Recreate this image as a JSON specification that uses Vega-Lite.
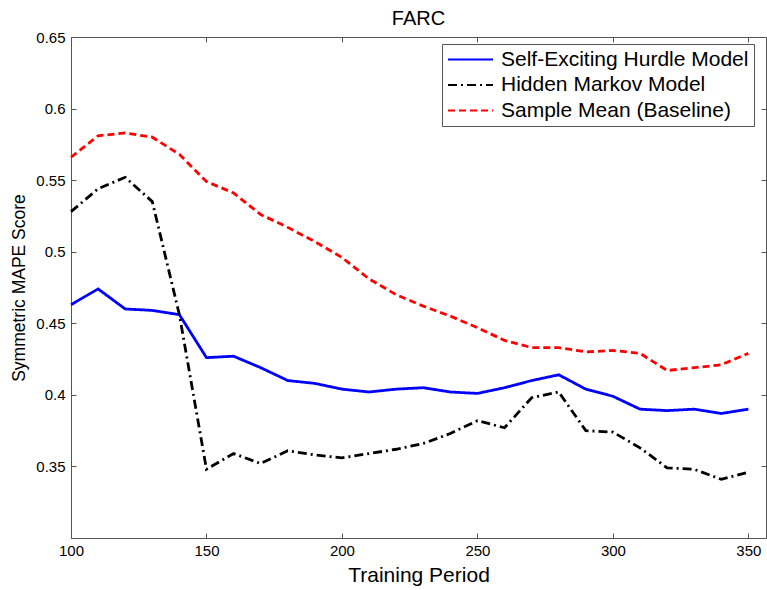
{
  "$schema": "https://vega.github.io/schema/vega-lite/v6.json",
  "width": 695,
  "height": 501,
  "autosize": "none",
  "padding": {"left": 71, "top": 37, "right": 1, "bottom": 52},
  "background": "white",
  "title": {"text": "FARC", "fontSize": 20, "font": "Liberation Sans", "fontWeight": "normal", "color": "black", "offset": 1, "anchor": "middle"},
  "config": {
    "view": {"stroke": "#555", "strokeWidth": 1},
    "axis": {
      "grid": false,
      "domainColor": "#555",
      "tickColor": "#555",
      "tickSize": -5,
      "labelFlush": false,
      "labelOverlap": false,
      "labelFont": "Liberation Sans",
      "labelFontSize": 15,
      "labelColor": "black",
      "titleFont": "Liberation Sans",
      "titleFontWeight": "normal",
      "titleColor": "black"
    }
  },
  "data": {"values": [
    {"period": 100, "model": "Self-Exciting Hurdle Model", "mape": 0.463},
    {"period": 110, "model": "Self-Exciting Hurdle Model", "mape": 0.474},
    {"period": 120, "model": "Self-Exciting Hurdle Model", "mape": 0.460},
    {"period": 130, "model": "Self-Exciting Hurdle Model", "mape": 0.459},
    {"period": 140, "model": "Self-Exciting Hurdle Model", "mape": 0.456},
    {"period": 150, "model": "Self-Exciting Hurdle Model", "mape": 0.426},
    {"period": 160, "model": "Self-Exciting Hurdle Model", "mape": 0.427},
    {"period": 170, "model": "Self-Exciting Hurdle Model", "mape": 0.419},
    {"period": 180, "model": "Self-Exciting Hurdle Model", "mape": 0.410},
    {"period": 190, "model": "Self-Exciting Hurdle Model", "mape": 0.408},
    {"period": 200, "model": "Self-Exciting Hurdle Model", "mape": 0.404},
    {"period": 210, "model": "Self-Exciting Hurdle Model", "mape": 0.402},
    {"period": 220, "model": "Self-Exciting Hurdle Model", "mape": 0.404},
    {"period": 230, "model": "Self-Exciting Hurdle Model", "mape": 0.405},
    {"period": 240, "model": "Self-Exciting Hurdle Model", "mape": 0.402},
    {"period": 250, "model": "Self-Exciting Hurdle Model", "mape": 0.401},
    {"period": 260, "model": "Self-Exciting Hurdle Model", "mape": 0.405},
    {"period": 270, "model": "Self-Exciting Hurdle Model", "mape": 0.410},
    {"period": 280, "model": "Self-Exciting Hurdle Model", "mape": 0.414},
    {"period": 290, "model": "Self-Exciting Hurdle Model", "mape": 0.404},
    {"period": 300, "model": "Self-Exciting Hurdle Model", "mape": 0.399},
    {"period": 310, "model": "Self-Exciting Hurdle Model", "mape": 0.390},
    {"period": 320, "model": "Self-Exciting Hurdle Model", "mape": 0.389},
    {"period": 330, "model": "Self-Exciting Hurdle Model", "mape": 0.390},
    {"period": 340, "model": "Self-Exciting Hurdle Model", "mape": 0.387},
    {"period": 350, "model": "Self-Exciting Hurdle Model", "mape": 0.390},
    {"period": 100, "model": "Hidden Markov Model", "mape": 0.528},
    {"period": 110, "model": "Hidden Markov Model", "mape": 0.544},
    {"period": 120, "model": "Hidden Markov Model", "mape": 0.552},
    {"period": 130, "model": "Hidden Markov Model", "mape": 0.535},
    {"period": 140, "model": "Hidden Markov Model", "mape": 0.456},
    {"period": 150, "model": "Hidden Markov Model", "mape": 0.348},
    {"period": 160, "model": "Hidden Markov Model", "mape": 0.359},
    {"period": 170, "model": "Hidden Markov Model", "mape": 0.352},
    {"period": 180, "model": "Hidden Markov Model", "mape": 0.361},
    {"period": 190, "model": "Hidden Markov Model", "mape": 0.358},
    {"period": 200, "model": "Hidden Markov Model", "mape": 0.356},
    {"period": 210, "model": "Hidden Markov Model", "mape": 0.359},
    {"period": 220, "model": "Hidden Markov Model", "mape": 0.362},
    {"period": 230, "model": "Hidden Markov Model", "mape": 0.366},
    {"period": 240, "model": "Hidden Markov Model", "mape": 0.373},
    {"period": 250, "model": "Hidden Markov Model", "mape": 0.382},
    {"period": 260, "model": "Hidden Markov Model", "mape": 0.377},
    {"period": 270, "model": "Hidden Markov Model", "mape": 0.398},
    {"period": 280, "model": "Hidden Markov Model", "mape": 0.402},
    {"period": 290, "model": "Hidden Markov Model", "mape": 0.375},
    {"period": 300, "model": "Hidden Markov Model", "mape": 0.374},
    {"period": 310, "model": "Hidden Markov Model", "mape": 0.363},
    {"period": 320, "model": "Hidden Markov Model", "mape": 0.349},
    {"period": 330, "model": "Hidden Markov Model", "mape": 0.348},
    {"period": 340, "model": "Hidden Markov Model", "mape": 0.341},
    {"period": 350, "model": "Hidden Markov Model", "mape": 0.346},
    {"period": 100, "model": "Sample Mean (Baseline)", "mape": 0.566},
    {"period": 110, "model": "Sample Mean (Baseline)", "mape": 0.581},
    {"period": 120, "model": "Sample Mean (Baseline)", "mape": 0.583},
    {"period": 130, "model": "Sample Mean (Baseline)", "mape": 0.580},
    {"period": 140, "model": "Sample Mean (Baseline)", "mape": 0.568},
    {"period": 150, "model": "Sample Mean (Baseline)", "mape": 0.549},
    {"period": 160, "model": "Sample Mean (Baseline)", "mape": 0.541},
    {"period": 170, "model": "Sample Mean (Baseline)", "mape": 0.526},
    {"period": 180, "model": "Sample Mean (Baseline)", "mape": 0.517},
    {"period": 190, "model": "Sample Mean (Baseline)", "mape": 0.507},
    {"period": 200, "model": "Sample Mean (Baseline)", "mape": 0.496},
    {"period": 210, "model": "Sample Mean (Baseline)", "mape": 0.481},
    {"period": 220, "model": "Sample Mean (Baseline)", "mape": 0.470},
    {"period": 230, "model": "Sample Mean (Baseline)", "mape": 0.462},
    {"period": 240, "model": "Sample Mean (Baseline)", "mape": 0.455},
    {"period": 250, "model": "Sample Mean (Baseline)", "mape": 0.447},
    {"period": 260, "model": "Sample Mean (Baseline)", "mape": 0.438},
    {"period": 270, "model": "Sample Mean (Baseline)", "mape": 0.433},
    {"period": 280, "model": "Sample Mean (Baseline)", "mape": 0.433},
    {"period": 290, "model": "Sample Mean (Baseline)", "mape": 0.430},
    {"period": 300, "model": "Sample Mean (Baseline)", "mape": 0.431},
    {"period": 310, "model": "Sample Mean (Baseline)", "mape": 0.429},
    {"period": 320, "model": "Sample Mean (Baseline)", "mape": 0.417},
    {"period": 330, "model": "Sample Mean (Baseline)", "mape": 0.419},
    {"period": 340, "model": "Sample Mean (Baseline)", "mape": 0.421},
    {"period": 350, "model": "Sample Mean (Baseline)", "mape": 0.429}
  ]},
  "layer": [
    {
      "mark": {"type": "line", "opacity": 0},
      "encoding": {
        "x": {"field": "period", "type": "quantitative", "scale": {"domain": [100, 356.5], "nice": false, "zero": false},
          "axis": {"orient": "top", "labels": false, "title": null, "values": [150, 200, 250, 300, 350], "domain": false}},
        "y": {"field": "mape", "type": "quantitative", "scale": {"domain": [0.3, 0.65], "nice": false, "zero": false},
          "axis": {"orient": "right", "labels": false, "title": null, "values": [0.35, 0.4, 0.45, 0.5, 0.55, 0.6], "domain": false}},
        "detail": {"field": "model"}
      }
    },
    {
      "mark": {"type": "line", "strokeWidth": 2.8},
      "encoding": {
        "x": {"field": "period", "type": "quantitative", "scale": {"domain": [100, 356.5], "nice": false, "zero": false},
          "axis": {"orient": "bottom", "title": "Training Period", "titleFontSize": 21, "titlePadding": 6, "labelPadding": 10, "values": [100, 150, 200, 250, 300, 350], "format": "d"}},
        "y": {"field": "mape", "type": "quantitative", "scale": {"domain": [0.3, 0.65], "nice": false, "zero": false},
          "axis": {"orient": "left", "title": "Symmetric MAPE Score", "titleFontSize": 17.5, "titlePadding": 7, "labelPadding": 11, "values": [0.35, 0.4, 0.45, 0.5, 0.55, 0.6, 0.65], "labelExpr": "format(datum.value, '.2~f')"}},
        "color": {"field": "model", "type": "nominal",
          "scale": {"domain": ["Self-Exciting Hurdle Model", "Hidden Markov Model", "Sample Mean (Baseline)"], "range": ["#0000ff", "#000000", "#ff0000"]},
          "legend": {"orient": "none", "legendX": 371, "legendY": 7, "title": null, "symbolType": "stroke", "symbolSize": 2025, "symbolStrokeWidth": 2, "clipHeight": 21, "labelFont": "Liberation Sans", "labelFontSize": 21, "labelLimit": 400, "labelColor": "black", "labelOffset": 7, "padding": 5, "strokeColor": "#555", "fillColor": "white", "rowPadding": 3.5}},
        "strokeDash": {"field": "model", "type": "nominal",
          "scale": {"domain": ["Self-Exciting Hurdle Model", "Hidden Markov Model", "Sample Mean (Baseline)"], "range": [[1, 0], [9, 4, 2, 4], [7, 4]]},
          "legend": {"orient": "none", "legendX": 371, "legendY": 7, "title": null, "symbolType": "stroke", "symbolSize": 2025, "symbolStrokeWidth": 2, "clipHeight": 21, "labelFont": "Liberation Sans", "labelFontSize": 21, "labelLimit": 400, "labelColor": "black", "labelOffset": 7, "padding": 5, "strokeColor": "#555", "fillColor": "white", "rowPadding": 3.5}}
      }
    }
  ],
  "resolve": {"axis": {"x": "independent", "y": "independent"}}
}
